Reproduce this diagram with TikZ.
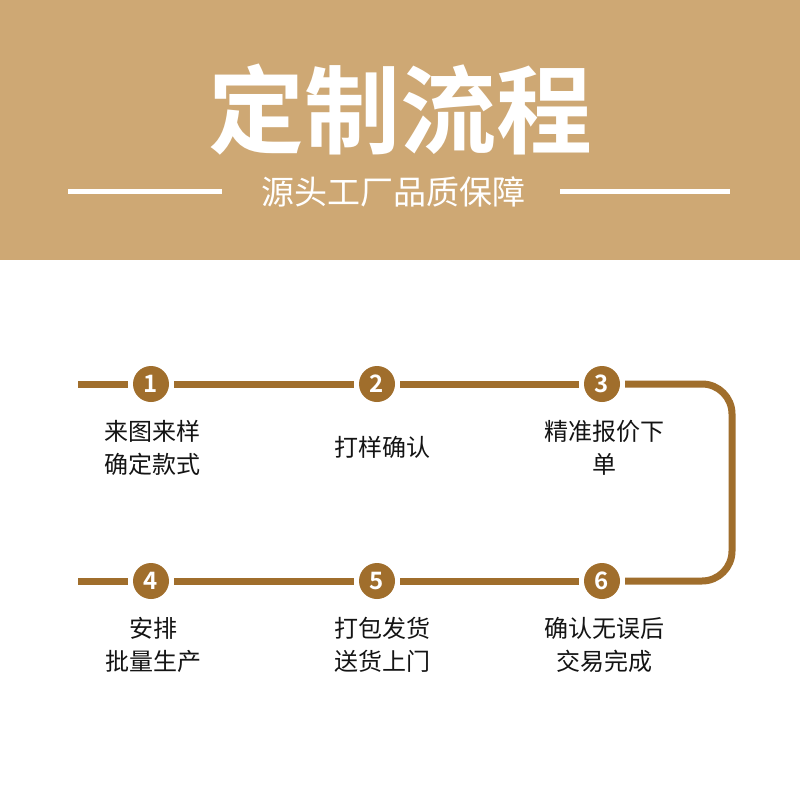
\documentclass[tikz,border=0pt]{standalone}
\usepackage{fontspec}
\newfontfamily\cjk{Noto Sans CJK SC}
\newfontfamily\cjkb{Noto Sans CJK SC Bold}
\definecolor{band}{RGB}{206,168,116}
\definecolor{brown}{RGB}{160,110,44}
\definecolor{ink}{RGB}{20,20,20}
\tikzset{
  numc/.style={circle, fill=brown, minimum size=36pt, inner sep=0pt, outer sep=5pt, text=white, font=\cjkb\fontsize{24}{24}\selectfont},
  flow/.style={draw=brown, line width=7pt},
  lbl/.style={text=ink, align=center, font=\cjk\fontsize{24}{33}\selectfont},
  wline/.style={draw=white, line width=5pt}
}
\begin{document}
\begin{tikzpicture}[x=1pt,y=-1pt]
\useasboundingbox (0,0) rectangle (800,800);
\fill[white] (0,0) rectangle (800,800);
\fill[band] (0,0) rectangle (800,260);
\node[text=white, font=\cjkb\fontsize{96}{96}\selectfont] (title) at (400,110) {定制流程};
\node[text=white, font=\cjk\fontsize{33}{33}\selectfont] (sub) at (393,192) {源头工厂品质保障};
\coordinate (wl1) at (68,191); \coordinate (wl2) at (222,191);
\coordinate (wr1) at (560,191); \coordinate (wr2) at (730,191);
\draw[wline] (wl1) -- (wl2);
\draw[wline] (wr1) -- (wr2);
% circles
\node[numc] (c1) at (151,384) {1};
\node[numc] (c2) at (377,384) {2};
\node[numc] (c3) at (602,384) {3};
\node[numc] (c4) at (151,581) {4};
\node[numc] (c5) at (377,581) {5};
\node[numc] (c6) at (602,581) {6};
\coordinate (s1) at (78,384);
\coordinate (s4) at (78,581);
\coordinate (r1) at (732,384);
\coordinate (r2) at (732,581);
\draw[flow] (s1) -- (c1);
\draw[flow] (c1) -- (c2);
\draw[flow] (c2) -- (c3);
\draw[flow, rounded corners=30pt] (c3) -- (r1) -- (r2) -- (c6);
\draw[flow] (s4) -- (c4);
\draw[flow] (c4) -- (c5);
\draw[flow] (c5) -- (c6);
% labels
\node[lbl] (t1) at (152,448) {来图来样\\确定款式};
\node[lbl] (t2) at (382,447) {打样确认};
\node[lbl] (t3) at (604,448) {精准报价下\\单};
\node[lbl] (t4) at (153,645) {安排\\批量生产};
\node[lbl] (t5) at (382,645) {打包发货\\送货上门};
\node[lbl] (t6) at (604,645) {确认无误后\\交易完成};
\end{tikzpicture}
\end{document}
